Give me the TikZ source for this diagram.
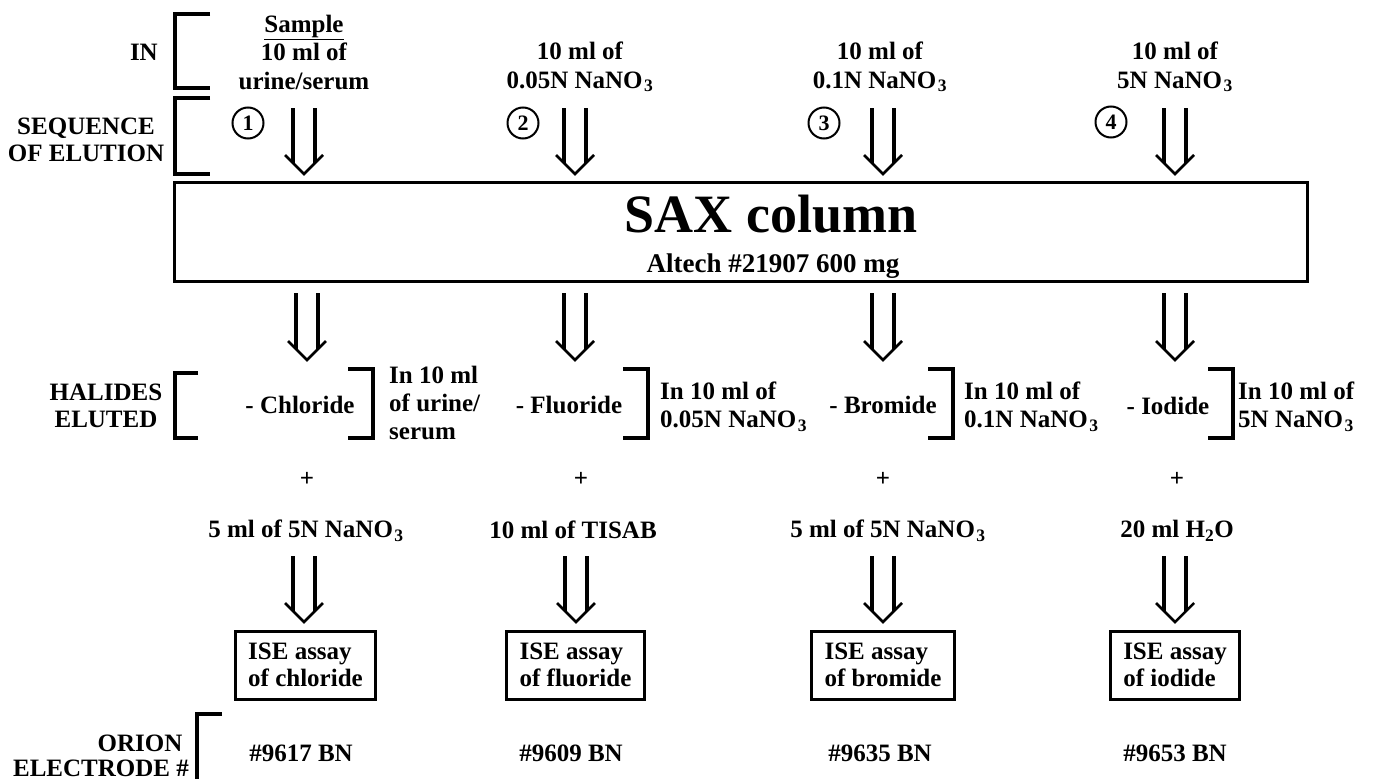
\documentclass[tikz,border=0pt]{standalone}
\usepackage{fontspec}
\setmainfont{Liberation Serif}
\usetikzlibrary{calc}
\newcommand\nanothree{NaNO\kern1.5pt\textsubscript{3}}
\newcommand\dnarrow[2]{%
  \draw[arrline] ($(#1)+(-11,0)$) -- ($(#2)+(-11,-11)$);
  \draw[arrline] ($(#1)+(11,0)$) -- ($(#2)+(11,-11)$);
  \draw[arrhead] ($(#2)+(-19,-19)$) -- (#2) -- ($(#2)+(19,-19)$);}
\begin{document}
\begin{tikzpicture}[x=1pt,y=-1pt,
  every node/.style={inner sep=0pt},
  txt/.style={font=\bfseries\fontsize{25}{28.5}\selectfont, align=center},
  ltxt/.style={font=\bfseries\fontsize{25}{28}\selectfont, align=left, anchor=west},
  brk/.style={line width=4pt, line join=miter},
  arrline/.style={line width=3.5pt},
  arrhead/.style={line width=2.5pt, line join=miter, line cap=butt},
  ise/.style={draw, line width=3pt, font=\bfseries\fontsize{25}{27}\selectfont, align=left, inner xsep=13pt, minimum height=68pt},
  num/.style={draw, circle, line width=2pt, minimum size=31pt, font=\bfseries\fontsize{22}{22}\selectfont}]
\useasboundingbox (0,0) rectangle (1374,779);

% left labels and brackets
\node[txt, anchor=east] (inlbl) at (158,52) {IN};
\node[txt, font=\bfseries\fontsize{25}{26.5}\selectfont] (seqlbl) at (86,140) {SEQUENCE\\OF ELUTION};
\node[txt, font=\bfseries\fontsize{25}{26.5}\selectfont] (hallbl) at (106,406) {HALIDES\\ELUTED};
\node[txt] (orion) at (140,743) {ORION};
\node[txt] (electrode) at (101,768) {ELECTRODE \#};
\draw[brk] (210,14) -- (175,14) -- (175,88) -- (210,88);
\draw[brk] (210,98) -- (175,98) -- (175,174) -- (210,174);
\draw[brk] (198,373) -- (175,373) -- (175,438) -- (198,438);
\draw[brk] (222,714) -- (197,714) -- (197,785);

% inputs
\node[txt] (in1) at (304,52) {\underline{Sample}\\10 ml of\\urine/serum};
\node[txt] (in2) at (580,67) {10 ml of\\0.05N \nanothree};
\node[txt] (in3) at (880,67) {10 ml of\\0.1N \nanothree};
\node[txt] (in4) at (1175,67) {10 ml of\\5N \nanothree};

\node[num] (c1) at (248,123) {1};
\node[num] (c2) at (523,123) {2};
\node[num] (c3) at (824,123) {3};
\node[num] (c4) at (1111,122) {4};

% SAX column
\node[draw, line width=3pt, minimum width=1133pt, minimum height=99pt] (sax) at (741,231.5) {};
\node[txt, font=\bfseries\fontsize{54}{54}\selectfont, anchor=base] (saxt) at (771,232) {SAX column};
\node[txt, font=\bfseries\fontsize{27}{27}\selectfont, anchor=base] (altech) at (773,272) {Altech \#21907 600 mg};

% arrow coordinates
\foreach \i/\x in {1/304,2/575,3/883,4/1175}{
  \coordinate (ta\i) at (\x,108); \coordinate (tb\i) at (\x,174);}
\foreach \i/\x in {1/307,2/575,3/883,4/1175}{
  \coordinate (ma\i) at (\x,293); \coordinate (mb\i) at (\x,360);}
\foreach \i/\x in {1/304,2/576,3/883,4/1175}{
  \coordinate (la\i) at (\x,556); \coordinate (lb\i) at (\x,622);}
\dnarrow{ta1}{tb1}\dnarrow{ta2}{tb2}\dnarrow{ta3}{tb3}\dnarrow{ta4}{tb4}
\dnarrow{ma1}{mb1}\dnarrow{ma2}{mb2}\dnarrow{ma3}{mb3}\dnarrow{ma4}{mb4}
\dnarrow{la1}{lb1}\dnarrow{la2}{lb2}\dnarrow{la3}{lb3}\dnarrow{la4}{lb4}

% halides
\node[txt] (h1) at (300,405) {- Chloride};
\node[txt] (h2) at (569,405) {- Fluoride};
\node[txt] (h3) at (883,405) {- Bromide};
\node[txt] (h4) at (1168,406) {- Iodide};
\draw[brk] (348,369) -- (373,369) -- (373,438) -- (348,438);
\draw[brk] (623,369) -- (648,369) -- (648,438) -- (623,438);
\draw[brk] (928,369) -- (953,369) -- (953,438) -- (928,438);
\draw[brk] (1208,369) -- (1233,369) -- (1233,438) -- (1208,438);
\node[ltxt] (v1) at (389,403) {In 10 ml\\of urine/\\serum};
\node[ltxt] (v2) at (660,407) {In 10 ml of\\0.05N \nanothree};
\node[ltxt] (v3) at (964,407) {In 10 ml of\\0.1N \nanothree};
\node[ltxt] (v4) at (1238,407) {In 10 ml of\\5N \nanothree};

% plus and reagents
\node[txt] (p1) at (307,479) {+};
\node[txt] (p2) at (581,479) {+};
\node[txt] (p3) at (883,479) {+};
\node[txt] (p4) at (1177,479) {+};
\node[txt] (r1) at (306,531) {5 ml of 5N \nanothree};
\node[txt] (r2) at (573,530) {10 ml of TISAB};
\node[txt] (r3) at (888,531) {5 ml of 5N \nanothree};
\node[txt] (r4) at (1177,531) {20 ml H\textsubscript{2}O};

% ISE boxes
\node[ise] (ise1) at (305.5,665) {ISE assay\\of chloride};
\node[ise] (ise2) at (575.5,665) {ISE assay\\of fluoride};
\node[ise] (ise3) at (883,665) {ISE assay\\of bromide};
\node[ise] (ise4) at (1175,665) {ISE assay\\of iodide};

% electrodes
\node[txt] (e1) at (301,753) {\#9617 BN};
\node[txt] (e2) at (571,753) {\#9609 BN};
\node[txt] (e3) at (880,753) {\#9635 BN};
\node[txt] (e4) at (1175,753) {\#9653 BN};
\end{tikzpicture}
\end{document}
